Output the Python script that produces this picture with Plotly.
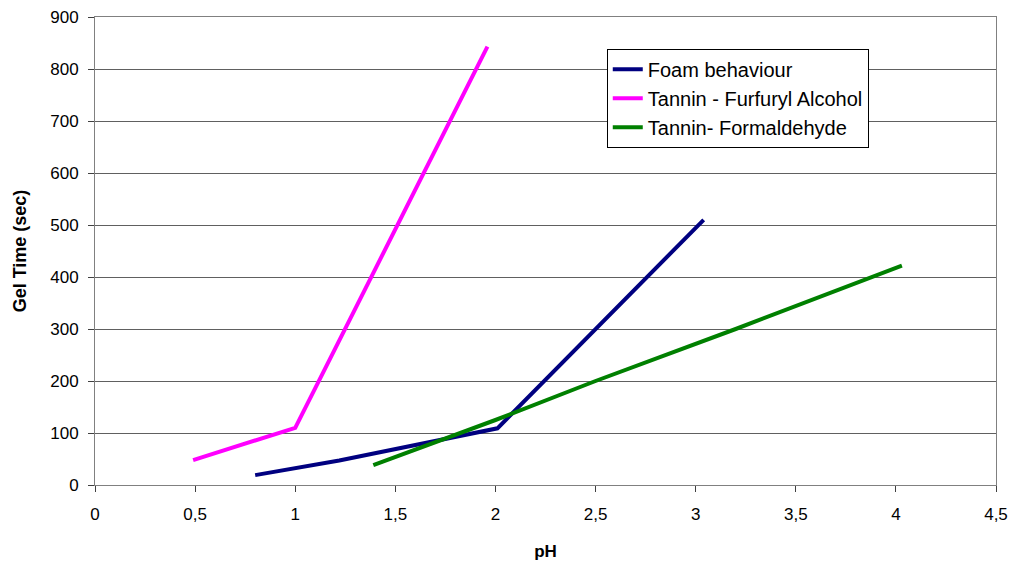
import plotly.graph_objects as go

foam_x = [0.80, 1.22, 2.01, 3.04]
foam_y = [19, 47, 109, 510]
tfa_x = [0.49, 1.00, 1.96]
tfa_y = [48, 110, 843]
tf_x = [1.39, 2.00, 2.50, 3.20, 4.03]
tf_y = [38, 125, 200, 300, 422]

x_ticks = [0, 0.5, 1, 1.5, 2, 2.5, 3, 3.5, 4, 4.5]
x_tick_labels = ["0", "0,5", "1", "1,5", "2", "2,5", "3", "3,5", "4", "4,5"]

fig = go.Figure()
fig.add_trace(go.Scatter(x=foam_x, y=foam_y, mode="lines", name="Foam behaviour",
                         line=dict(color="#000080", width=4)))
fig.add_trace(go.Scatter(x=tfa_x, y=tfa_y, mode="lines", name="Tannin - Furfuryl Alcohol",
                         line=dict(color="#FF00FF", width=4)))
fig.add_trace(go.Scatter(x=tf_x, y=tf_y, mode="lines", name="Tannin- Formaldehyde",
                         line=dict(color="#008000", width=4)))

fig.update_layout(
    width=1002, height=553,
    margin=dict(l=87, r=14, t=9, b=76),
    paper_bgcolor="white", plot_bgcolor="white",
    font=dict(family="Liberation Sans, Arial", size=16, color="black"),
    showlegend=True,
    legend=dict(x=0.568, y=0.932, xanchor="left", yanchor="top",
                bordercolor="black", borderwidth=1, bgcolor="white",
                font=dict(size=20), tracegroupgap=0),
)
fig.update_xaxes(
    range=[0, 4.5], tickvals=x_ticks, ticktext=x_tick_labels,
    showgrid=False, zeroline=False, automargin=False,
    showline=True, linecolor="#808080", linewidth=1, mirror=True,
    ticks="outside", ticklen=6, tickcolor="#404040",
    tickfont=dict(size=17), ticklabelstandoff=8, ticklabeloverflow="allow",
    title=dict(text="<b>pH</b>", font=dict(size=17), standoff=28),
)
fig.update_yaxes(
    range=[0, 900], dtick=100,
    showgrid=True, gridcolor="#606060", gridwidth=1, zeroline=False, automargin=False,
    showline=True, linecolor="#808080", linewidth=1, mirror=True,
    ticks="outside", ticklen=6, tickcolor="#404040",
    tickfont=dict(size=17), ticklabelstandoff=6, ticklabeloverflow="allow",
    title=dict(text="<b>Gel Time (sec)</b>", font=dict(size=18), standoff=18),
)

fig.write_html("out.html")
